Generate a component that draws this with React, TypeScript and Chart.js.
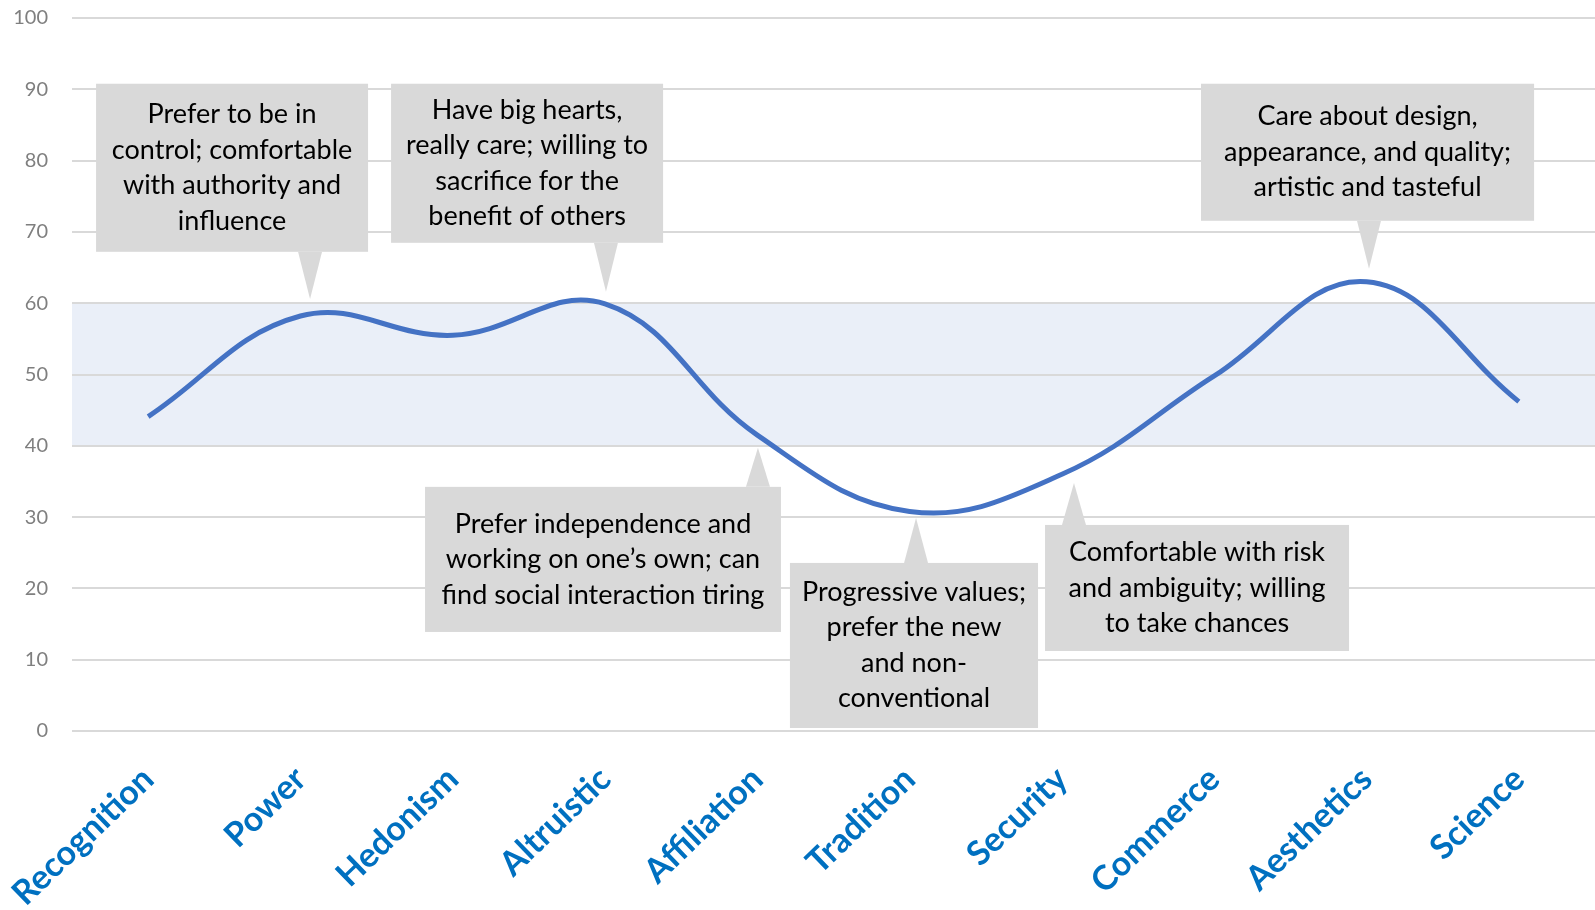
import React, { useEffect, useRef } from "react";
import { Chart, registerables } from "chart.js";

Chart.register(...registerables);

// Work-value profile
const categories = [
  "Recognition",
  "Power",
  "Hedonism",
  "Altruistic",
  "Affiliation",
  "Tradition",
  "Security",
  "Commerce",
  "Aesthetics",
  "Science",
];
const scores = [44.1, 58.2, 55.5, 59.9, 41.5, 30.8, 36.0, 49.8, 63.0, 46.2];

// Average range shown as a shaded band
const bandLow = 40;
const bandHigh = 60;

// Callout texts, one entry per callout
const calloutLines = [
  ["Prefer to be in", "control; comfortable", "with authority and", "influence"],
  ["Have big hearts,", "really care; willing to", "sacrifice for the", "benefit of others"],
  ["Prefer independence and", "working on one\u2019s own; can", "find social interaction tiring"],
  ["Progressive values;", "prefer the new", "and non-", "conventional"],
  ["Comfortable with risk", "and ambiguity; willing", "to take chances"],
  ["Care about design,", "appearance, and quality;", "artistic and tasteful"],
];

// Callout placement in axis units (x: category index, y: score)
const calloutLayout = [
  { left: -0.342, right: 1.444, top: 90.78, bottom: 67.21, tipX: 1.063, tipY: 60.6 },
  { left: 1.595, right: 3.381, top: 90.78, bottom: 68.47, tipX: 3.006, tipY: 61.6 },
  { left: 1.818, right: 4.155, top: 34.24, bottom: 13.89, tipX: 4.004, tipY: 39.71 },
  { left: 4.214, right: 5.843, top: 23.57, bottom: 0.42, tipX: 5.042, tipY: 29.89 },
  { left: 5.889, right: 7.885, top: 28.9, bottom: 11.22, tipX: 6.079, tipY: 34.8 },
  { left: 6.913, right: 9.1, top: 90.78, bottom: 71.56, tipX: 8.016, tipY: 64.82 },
];

const FONT = "Lato, 'Open Sans', sans-serif";

const bandPlugin = {
  id: "averageBand",
  beforeDraw(chart: any) {
    const { ctx, chartArea, scales } = chart;
    const yTop = scales.y.getPixelForValue(bandHigh);
    const yBot = scales.y.getPixelForValue(bandLow);
    ctx.save();
    ctx.fillStyle = "#EAEFF8";
    ctx.fillRect(chartArea.left, yTop, chartArea.right - chartArea.left, yBot - yTop);
    ctx.restore();
  },
};

const calloutPlugin = {
  id: "callouts",
  afterDatasetsDraw(chart: any) {
    const { ctx, scales } = chart;
    const x0 = scales.x.getPixelForValue(0);
    const step = scales.x.getPixelForValue(1) - x0;
    const px = (i: number) => x0 + i * step;
    const py = (v: number) => scales.y.getPixelForValue(v);

    // one shared font size that fits every callout
    const pad = 9;
    let size = 27;
    ctx.save();
    calloutLines.forEach((lines, k) => {
      const L = calloutLayout[k];
      const w = px(L.right) - px(L.left) - 2 * pad;
      ctx.font = `100px ${FONT}`;
      const widest = Math.max(...lines.map((t) => ctx.measureText(t).width));
      size = Math.min(size, (w / widest) * 100);
    });
    const lineH = 35.5;

    calloutLines.forEach((lines, k) => {
      const L = calloutLayout[k];
      const bx0 = px(L.left);
      const bx1 = px(L.right);
      const by0 = py(L.top);
      const by1 = py(L.bottom);
      const tx = px(L.tipX);
      const ty = py(L.tipY);
      ctx.fillStyle = "#D9D9D9";
      ctx.fillRect(bx0, by0, bx1 - bx0, by1 - by0);
      const baseY = ty < by0 ? by0 : by1;
      ctx.beginPath();
      ctx.moveTo(tx - 12, baseY);
      ctx.lineTo(tx + 12, baseY);
      ctx.lineTo(tx, ty);
      ctx.closePath();
      ctx.fill();

      ctx.fillStyle = "#000000";
      ctx.font = `${size}px ${FONT}`;
      ctx.textAlign = "center";
      ctx.textBaseline = "middle";
      const cx = (bx0 + bx1) / 2;
      const cy = (by0 + by1) / 2;
      lines.forEach((t, j) => {
        ctx.fillText(t, cx, cy + (j - (lines.length - 1) / 2) * lineH);
      });
    });
    ctx.restore();
  },
};

export default function App() {
  const canvasRef = useRef<HTMLCanvasElement | null>(null);

  useEffect(() => {
    if (!canvasRef.current) return;
    const chart = new Chart(canvasRef.current, {
      type: "line",
      data: {
        labels: categories,
        datasets: [
          {
            data: scores,
            borderColor: "#4472C4",
            borderWidth: 5,
            tension: 0.4,
            pointRadius: 0,
            fill: false,
          },
        ],
      },
      options: {
        animation: false,
        responsive: true,
        maintainAspectRatio: false,
        layout: { padding: { top: 18, right: 0, left: 0, bottom: 0 } },
        plugins: {
          legend: { display: false },
          tooltip: { enabled: false },
        },
        scales: {
          x: {
            offset: true,
            grid: { display: false },
            border: { display: false },
            ticks: {
              autoSkip: false,
              minRotation: 44,
              maxRotation: 44,
              color: "#0070C0",
              padding: 20,
              font: { family: FONT, size: 34, weight: "bold" },
            },
            afterFit: (s: any) => {
              s.height = 179;
              s.paddingLeft = 0;
              s.paddingRight = 0;
            },
          },
          y: {
            min: 0,
            max: 100,
            border: { display: false },
            grid: { color: "#D9D9D9", lineWidth: 2, drawTicks: false },
            ticks: {
              stepSize: 10,
              color: "#7F7F7F",
              padding: 24,
              font: { family: FONT, size: 20 },
            },
            afterFit: (s: any) => {
              s.width = 72;
              s.paddingTop = 0;
              s.paddingBottom = 0;
            },
          },
        },
      },
      plugins: [bandPlugin, calloutPlugin],
    });
    return () => chart.destroy();
  }, []);

  return (
    <div
      style={{
        position: "absolute",
        left: 0,
        top: 0,
        width: 1595,
        height: 910,
        background: "#ffffff",
      }}
    >
      <canvas ref={canvasRef} />
    </div>
  );
}
